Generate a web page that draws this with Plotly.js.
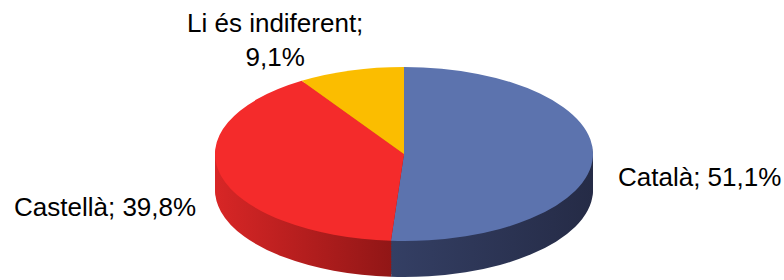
<!DOCTYPE html>
<html>
<head>
<meta charset="utf-8">
<script src="https://cdn.plot.ly/plotly-3.0.1.min.js"></script>
<style>
  html, body { margin: 0; padding: 0; background: #ffffff; }
  #chart { width: 784px; height: 280px; }
</style>
</head>
<body>
<div id="chart"></div>
<script>
// ---- data ----
const labels = ['Català', 'Castellà', 'Li és indiferent'];
const values = [51.1, 39.8, 9.1];
const topColors = ['#5c73ae', '#f42b2b', '#fbbd00'];
const sideColors = ['#2b3455', '#b82020', '#c99400'];
// side gradients (left -> right) per slice
const sideGradients = [['#343f64', '#252b46'], ['#d82626', '#8c1515'], ['#d9a200', '#b58600']];

// ---- geometry (pre-squash) ----
const W = 784, H = 280;
const r0 = 100;
const h = (2 * r0) / H;
const cx = 404, cy = 154;
const rx = 189, ry = 87;
const depth = 36;
const sx = rx / r0, sy = ry / r0;
const depthPre = depth / sy;
const nLayers = 14;

function pieTrace(offsetPx, colors) {
  const f = offsetPx / H;
  return {
    type: 'pie',
    labels: labels,
    values: values,
    sort: false,
    direction: 'clockwise',
    rotation: 0,
    textinfo: 'none',
    hoverinfo: 'skip',
    showlegend: false,
    marker: { colors: colors, line: { width: 0 } },
    domain: { x: [0, 1], y: [1 - h - f, 1 - f] }
  };
}

const traces = [];
for (let k = nLayers; k >= 1; k--) {
  traces.push(pieTrace(depthPre * k / nLayers, sideColors));
}
traces.push(pieTrace(0, topColors));

function fmt(v) { return v.toFixed(1).replace('.', ',') + '%'; }

const fontSpec = { family: 'Liberation Sans, Arial, sans-serif', size: 26, color: '#000000' };

const annotations = [
  { text: labels[0] + '; ' + fmt(values[0]), x: 616 / W, y: 1 - 177 / H, xanchor: 'left', yanchor: 'middle' },
  { text: labels[1] + '; ' + fmt(values[1]), x: 198 / W, y: 1 - 207 / H, xanchor: 'right', yanchor: 'middle' },
  { text: labels[2] + ';<br>' + fmt(values[2]), x: 275 / W, y: 1 - 40 / H, xanchor: 'center', yanchor: 'middle', align: 'center' }
].map(a => Object.assign({ xref: 'paper', yref: 'paper', showarrow: false, font: fontSpec }, a));

const layout = {
  width: W, height: H,
  margin: { l: 0, r: 0, t: 0, b: 0 },
  paper_bgcolor: '#ffffff',
  plot_bgcolor: '#ffffff',
  showlegend: false,
  annotations: annotations
};

const gd = document.getElementById('chart');
const NS = 'http://www.w3.org/2000/svg';
function squash() {
  const svg = gd.querySelector('svg.main-svg');
  let defs = svg.querySelector('defs');
  if (!defs) { defs = document.createElementNS(NS, 'defs'); svg.insertBefore(defs, svg.firstChild); }
  sideGradients.forEach(function (g, i) {
    const id = 'sideGrad' + i;
    if (!svg.querySelector('#' + id)) {
      const lg = document.createElementNS(NS, 'linearGradient');
      lg.setAttribute('id', id);
      lg.setAttribute('x1', '0'); lg.setAttribute('y1', '0');
      lg.setAttribute('x2', '1'); lg.setAttribute('y2', '0');
      [[0, g[0]], [1, g[1]]].forEach(function (s) {
        const st = document.createElementNS(NS, 'stop');
        st.setAttribute('offset', s[0]);
        st.setAttribute('stop-color', s[1]);
        lg.appendChild(st);
      });
      defs.appendChild(lg);
    }
  });
  const pl = gd.querySelector('.pielayer');
  if (pl) {
    pl.setAttribute('transform',
      'translate(' + cx + ',' + cy + ') scale(' + sx + ',' + sy + ') translate(' + (-W / 2) + ',' + (-r0) + ')');
    const groups = pl.querySelectorAll('g.trace');
    groups.forEach(function (tg, ti) {
      if (ti >= nLayers) return;
      tg.querySelectorAll('g.slice').forEach(function (sl, si) {
        const p = sl.querySelector('path.surface');
        if (p) p.style.fill = 'url(#sideGrad' + si + ')';
      });
    });
  }
}
Plotly.newPlot(gd, traces, layout, { staticPlot: true, displayModeBar: false }).then(function () {
  squash();
  gd.on && gd.on('plotly_afterplot', squash);
});
</script>
</body>
</html>
